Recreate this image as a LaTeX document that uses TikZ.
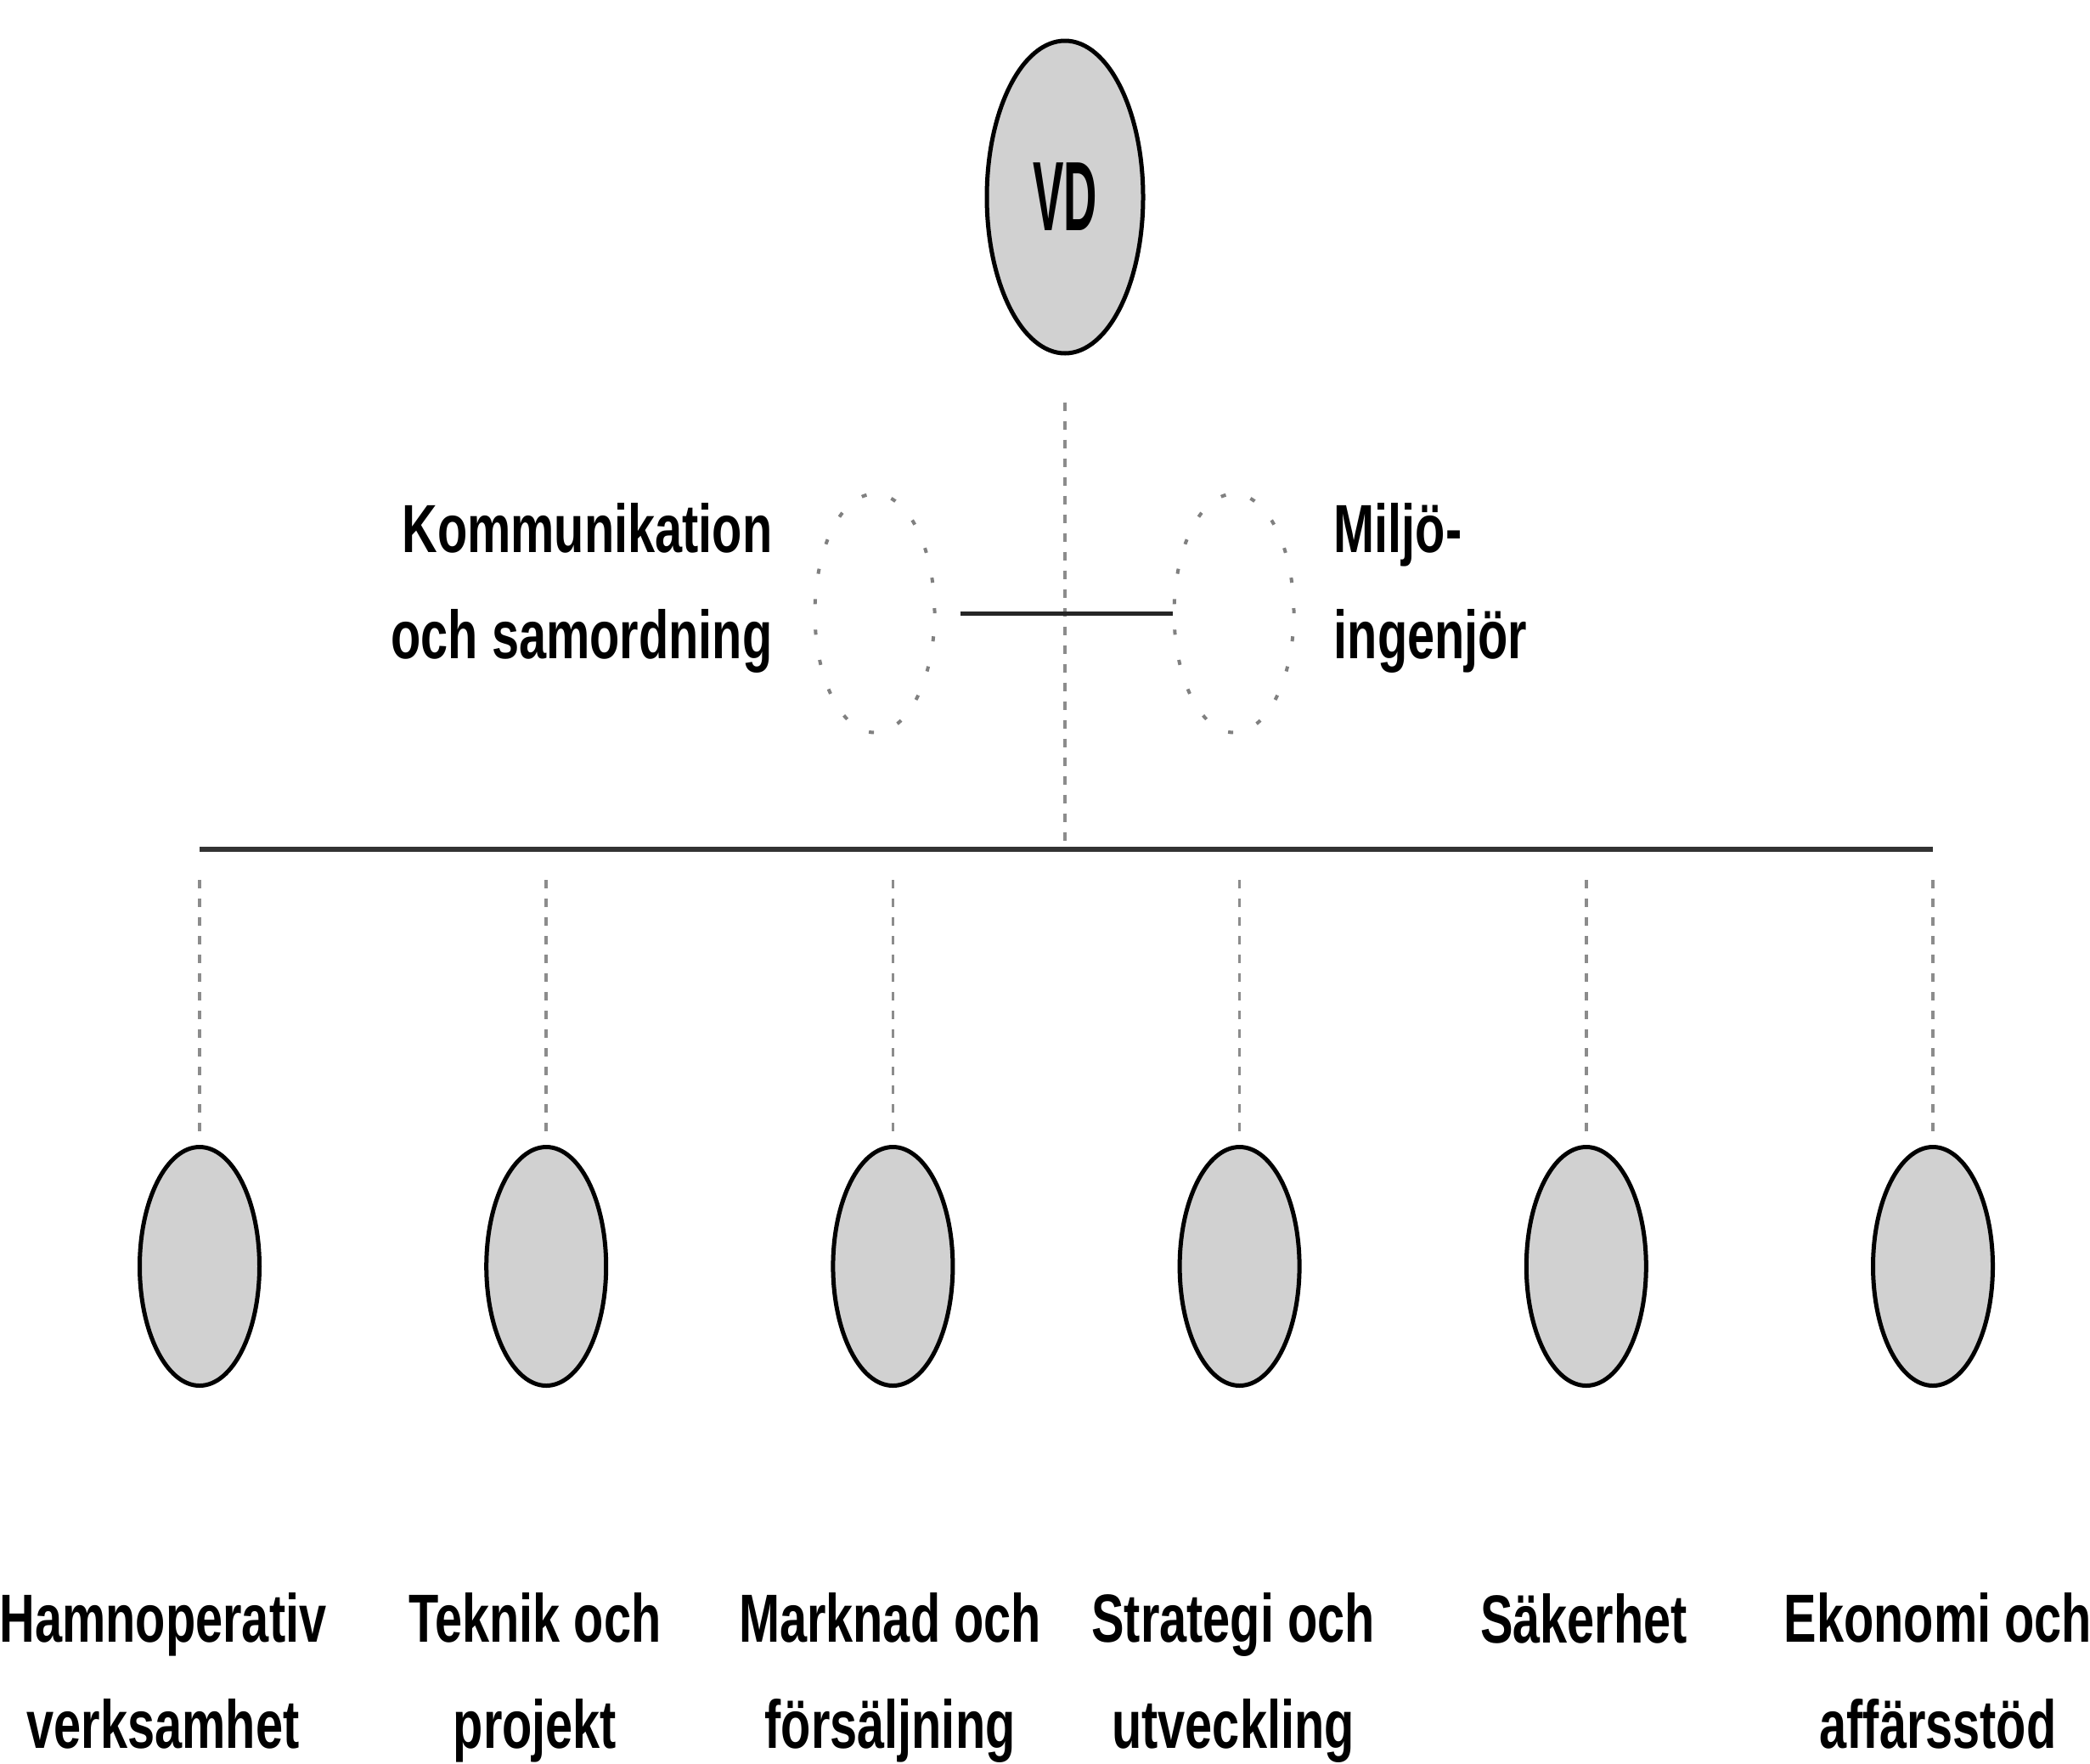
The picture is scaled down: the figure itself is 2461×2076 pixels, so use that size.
\documentclass[tikz,border=0pt]{standalone}
\usepackage{fontspec}
\setmainfont{Liberation Sans}
\newfontfamily\condfont[FakeStretch=0.72]{Liberation Sans}
\newfontfamily\vdfont[FakeStretch=0.47]{Liberation Sans}
\usetikzlibrary{positioning, shapes.geometric}

\begin{document}
\begin{tikzpicture}[x=0.1mm, y=-0.1mm,
        unit_box/.style={ellipse, draw, line width=0.5mm, fill=black!18, minimum width=14.1mm, minimum height=28.1mm, inner sep=0pt},
        staff_box/.style={ellipse, draw=black!50, line width=0.4mm, dash pattern=on 0.6mm off 3mm, minimum width=14.1mm, minimum height=28.1mm, inner sep=0pt},
        unit_text/.style={align=center, anchor=base, inner sep=0pt, font=\condfont\bfseries\fontsize{22.8}{35.3}\selectfont},
        bus_line/.style={draw, line width=0.55mm, black!80},
        drop_line/.style={draw, line width=0.35mm, black!45, dash pattern=on 1mm off 1.2mm},
        staff_line/.style={draw, line width=0.5mm, black!85}
    ]
        \useasboundingbox (0,0) rectangle (2461,2076);

        % VD at the top
        \node[unit_box, minimum width=18.4mm, minimum height=36.8mm, font=\vdfont\bfseries\fontsize{33}{33}\selectfont] (vd) at (1254,232) {VD};
        \coordinate (bus) at (1254,1000);
        \draw[drop_line, shorten <=5.5mm] (vd) -- (bus);

        % Staff functions (text anchored at the last line)
        \node[staff_box] (kom_ring) at (1030,722) {};
        \node[staff_box] (milj_ring) at (1453,722) {};
        \draw[staff_line] ([xshift=2.8mm]kom_ring.east) -- (milj_ring.west);
        \node[unit_text, align=right, anchor=base east] (kom_text) at (910,775) {Kommunikation\\och samordning};
        \node[unit_text, align=left, anchor=base west] (milj_text) at (1570,775) {Miljö-\\ingenjör};

        % Units (ellipses and drops)
        \foreach \i in {1,...,6} {
            \node[unit_box] (d\i) at ({235+408.2*(\i-1)},1491) {};
            \draw[drop_line, shorten <=3.6mm, shorten >=1.6mm] (d\i |- bus) -- (d\i);
        }
        \draw[bus_line] (bus -| d1) -- (bus -| d6);

        % Unit names
        \foreach \x/\y/\name [count=\i] in {192/2058/{Hamnoperativ\\verksamhet}, 630/2058/{Teknik och\\projekt}, 1048/2058/{Marknad och\\försäljning}, 1452/2058/{Strategi och\\utveckling}, 1865/1934/{Säkerhet}, 2282/2058/{Ekonomi och\\affärsstöd}} {
            \node[unit_text] (t\i) at (\x,\y) {\name};
        }

    \end{tikzpicture}
\end{document}
